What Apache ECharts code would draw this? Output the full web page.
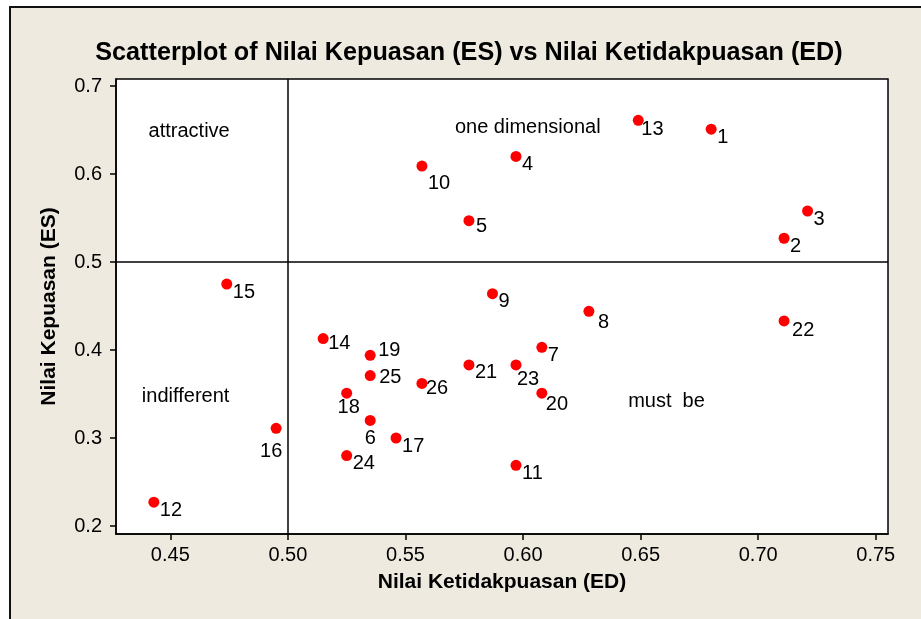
<!DOCTYPE html>
<html>
<head>
<meta charset="utf-8">
<script src="https://cdn.jsdelivr.net/npm/echarts@6/dist/echarts.min.js"></script>
<style>
  body { margin: 0; background: #fff; }
  #frame {
    position: absolute; left: 9px; top: 6px; width: 912px; height: 613px;
    background: #eeeae0; border-left: 2px solid #111; border-top: 2px solid #111;
    box-sizing: border-box;
  }
  #main { position: absolute; left: 0; top: 0; width: 921px; height: 619px; }
</style>
</head>
<body>
<div id="frame"></div>
<div id="main"></div>
<script>
// nomor atribut 1..26
var ids = ['1','2','3','4','5','6','7','8','9','10','11','12','13',
           '14','15','16','17','18','19','20','21','22','23','24','25','26'];
// Nilai Ketidakpuasan (ED)
var ed = [0.680, 0.711, 0.721, 0.597, 0.577, 0.535, 0.608, 0.628, 0.587, 0.557, 0.597, 0.443, 0.649,
          0.515, 0.474, 0.495, 0.546, 0.525, 0.535, 0.608, 0.577, 0.711, 0.597, 0.525, 0.535, 0.557];
// Nilai Kepuasan (ES)
var es = [0.651, 0.527, 0.558, 0.620, 0.547, 0.320, 0.403, 0.444, 0.464, 0.609, 0.269, 0.227, 0.661,
          0.413, 0.475, 0.311, 0.300, 0.351, 0.394, 0.351, 0.383, 0.433, 0.383, 0.280, 0.371, 0.362];

// kuadran Kano
var quadNames = ['attractive', 'one dimensional', 'indifferent', 'must  be'];
var quadX = [0.458, 0.602, 0.4565, 0.661];
var quadY = [0.648, 0.6526, 0.347, 0.342];

var xTicks = [0.45, 0.50, 0.55, 0.60, 0.65, 0.70, 0.75];
var yTicks = [0.2, 0.3, 0.4, 0.5, 0.6, 0.7];
var refLine = 0.5;

// posisi label (geser dari titik), default kanan bawah
var labelShift = {
  '5': [8, 6], '6': [1, 18, 'center'], '8': [10, 11], '10': [7, 17], '13': [4, 9],
  '14': [6, 5], '16': [-4, 23, 'center'], '18': [3, 14, 'center'], '19': [9, -5],
  '20': [5, 11], '22': [9, 10], '23': [2, 15], '25': [10, 2], '26': [5, 5]
};

var pts = ids.map(function (id, i) {
  var s = labelShift[id] || [7, 8, 'left'];
  return {
    name: id,
    value: [ed[i], es[i]],
    label: { align: s[2] || 'left', offset: [s[0] - 1, s[1]] }
  };
});

var quads = quadNames.map(function (n, i) {
  return { name: n, value: [quadX[i], quadY[i]] };
});

var font = 'Liberation Sans';
var myChart = echarts.init(document.getElementById('main'));
myChart.setOption({
  backgroundColor: 'transparent',
  animation: false,
  title: {
    text: 'Scatterplot of Nilai Kepuasan (ES) vs Nilai Ketidakpuasan (ED)',
    left: 464, top: 36, textAlign: 'center',
    textStyle: { fontFamily: font, fontWeight: 'bold', fontSize: 25.2, color: '#000' }
  },
  grid: {
    left: 116, top: 79, right: 33, bottom: 85,
    show: true, backgroundColor: '#fff', borderColor: '#000', borderWidth: 1.5
  },
  xAxis: {
    type: 'value', min: 0.4269, max: 0.7552,
    name: 'Nilai Ketidakpuasan (ED)', nameLocation: 'middle', nameGap: 38,
    nameTextStyle: { fontFamily: font, fontWeight: 'bold', fontSize: 21, color: '#000' },
    axisLine: { lineStyle: { color: '#000', width: 1.5 } },
    axisTick: { length: 6, lineStyle: { color: '#000', width: 1.5 }, customValues: xTicks },
    axisLabel: {
      margin: 11, fontFamily: font, fontSize: 20, color: '#000',
      customValues: xTicks,
      formatter: function (v) { return v.toFixed(2); }
    },
    splitLine: { show: false }
  },
  yAxis: {
    type: 'value', min: 0.1909, max: 0.708,
    name: 'Nilai Kepuasan (ES)', nameLocation: 'middle', nameGap: 56,
    nameTextStyle: { fontFamily: font, fontWeight: 'bold', fontSize: 21, color: '#000' },
    axisLine: { lineStyle: { color: '#000', width: 1.5 } },
    axisTick: { length: 6, lineStyle: { color: '#000', width: 1.5 }, customValues: yTicks },
    axisLabel: {
      margin: 14, fontFamily: font, fontSize: 20, color: '#000',
      customValues: yTicks,
      formatter: function (v) { return v.toFixed(1); }
    },
    splitLine: { show: false }
  },
  series: [
    {
      name: 'atribut',
      type: 'scatter',
      symbolSize: 11,
      itemStyle: { color: '#ff0000', opacity: 1 },
      label: {
        show: true, position: 'inside', verticalAlign: 'middle',
        formatter: '{b}', fontFamily: font, fontSize: 20, color: '#000'
      },
      data: pts,
      markLine: {
        silent: true, symbol: 'none', label: { show: false },
        lineStyle: { color: '#000', width: 1.5, type: 'solid' },
        data: [{ xAxis: refLine }, { yAxis: refLine }]
      },
      z: 3
    },
    {
      name: 'kuadran',
      type: 'scatter',
      symbolSize: 0,
      silent: true,
      itemStyle: { color: '#000', opacity: 1 },
      label: {
        show: true, position: 'inside', align: 'center', verticalAlign: 'middle',
        formatter: '{b}', fontFamily: font, fontSize: 20, color: '#000'
      },
      data: quads
    }
  ]
});
</script>
</body>
</html>
